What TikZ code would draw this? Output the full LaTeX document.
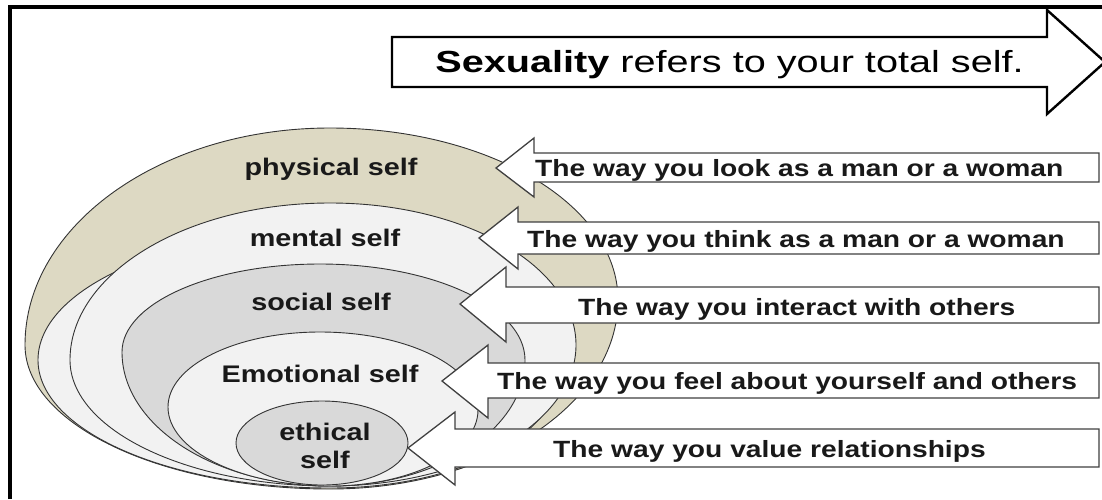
\documentclass[tikz,border=0pt]{standalone}
\usepackage{fontspec}
\setmainfont{Liberation Sans}[FakeStretch=1.2]
\newfontfamily\headfont{Liberation Sans}[FakeStretch=1.3]
\usepackage{xcolor}
\usepackage{tikz}
\usetikzlibrary{positioning, calc}

\definecolor{tanfill}{HTML}{DDD9C3}
\definecolor{lightfill}{HTML}{F2F2F2}
\definecolor{greyfill}{HTML}{D9D9D9}
\definecolor{edgegrey}{HTML}{404040}

% closed egg outline through left, top, right and bottom points
\newcommand{\eggpath}[8]{%
  (#1,#2) .. controls (#1,{#2-0.5523*(#2-#4)}) and ({#3-0.5523*(#3-#1)},#4) .. (#3,#4)
  .. controls ({#3+0.5523*(#5-#3)},#4) and (#5,{#6-0.5523*(#6-#4)}) .. (#5,#6)
  .. controls (#5,{#6+0.5523*(#8-#6)}) and ({#7+0.5523*(#5-#7)},#8) .. (#7,#8)
  .. controls ({#7-0.5523*(#7-#1)},#8) and (#1,{#2+0.5523*(#8-#2)}) .. (#1,#2) -- cycle}

\begin{document}
\begin{tikzpicture}[
    x=1pt, y=-1pt,
    layer/.style={draw=black!80, line width=0.9pt},
    callout/.style={draw=edgegrey, fill=white, line width=1.3pt, line join=miter},
    banner/.style={draw=black, fill=white, line width=2.4pt, line join=miter},
    selflbl/.style={font=\bfseries\fontsize{24}{28}\selectfont, text=black!90, align=center, inner sep=0pt},
    waylbl/.style={font=\bfseries\fontsize{23.5}{26}\selectfont, text=black!90, anchor=base west, inner sep=0pt}
]
\useasboundingbox (0,0) rectangle (1102,499);

% Frame (left and top edges only)
\draw[line width=4pt] (9.5,499) -- (9.5,7) -- (1102,7);

% Banner arrow
\draw[banner] (392,37) -- (1047,37) -- (1047,10) -- (1105,62) -- (1047,114) -- (1047,87) -- (392,87) -- cycle;
\node[anchor=base, inner sep=0pt] (total) at (729.5,72) {\headfont\fontsize{30.5}{34}\selectfont\textbf{Sexuality} refers to your total self.};

% Nested selves (outer to inner)
\filldraw[layer, fill=tanfill] \eggpath{25}{345}{330}{128}{618}{300}{330}{489};
\filldraw[layer, fill=lightfill] \eggpath{38}{360}{330}{230}{560}{370}{330}{488};
\filldraw[layer, fill=lightfill] \eggpath{70}{360}{330}{203}{576}{345}{330}{486};
\filldraw[layer, fill=greyfill] \eggpath{122}{352}{320}{264}{525}{360}{330}{486};
\filldraw[layer, fill=lightfill] \eggpath{168}{407}{320}{332}{478}{410}{330}{486};
\filldraw[layer, fill=greyfill] (322,443) ellipse [x radius=86, y radius=42];

\node[selflbl, anchor=base] (physical) at (331,175) {physical self};
\node[selflbl, anchor=base] (mental) at (325,246) {mental self};
\node[selflbl, anchor=base] (social) at (321,310) {social self};
\node[selflbl, anchor=base] (emotional) at (320,382) {Emotional self};
\node[selflbl] (ethical) at (325,446) {ethical\\self};

% Callout arrows pointing back at each self
\draw[callout] (496,168) -- (534,138) -- (534,153) -- (1099,153) -- (1099,182) -- (534,182) -- (534,197) -- cycle;
\draw[callout] (479,238) -- (518,207) -- (518,222) -- (1099,222) -- (1099,254) -- (518,254) -- (518,269) -- cycle;
\draw[callout] (460,304) -- (506,267) -- (506,287) -- (1099,287) -- (1099,323) -- (506,323) -- (506,342) -- cycle;
\draw[callout] (442,381) -- (488,345) -- (488,363) -- (1099,363) -- (1099,398) -- (488,398) -- (488,418) -- cycle;
\draw[callout] (408,448) -- (455,412) -- (455,429) -- (1099,429) -- (1099,467) -- (455,467) -- (455,485) -- cycle;

\node[waylbl] (look) at (535,176) {The way you look as a man or a woman};
\node[waylbl] (think) at (527,247) {The way you think as a man or a woman};
\node[waylbl] (interact) at (578,315) {The way you interact with others};
\node[waylbl] (feel) at (497,389) {The way you feel about yourself and others};
\node[waylbl] (value) at (553,457) {The way you value relationships};

\end{tikzpicture}
\end{document}
